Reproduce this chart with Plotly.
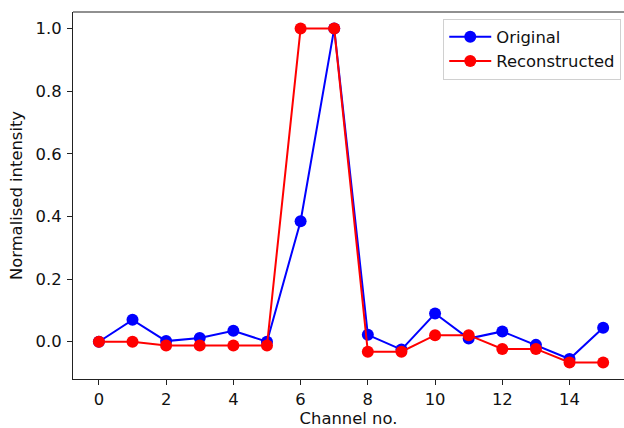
import plotly.graph_objects as go

channels = list(range(16))
original = [0.0, 0.07, 0.002, 0.012, 0.035, 0.0, 0.385, 1.0,
            0.022, -0.025, 0.09, 0.01, 0.033, -0.01, -0.055, 0.045]
reconstructed = [0.0, 0.0, -0.012, -0.012, -0.012, -0.012, 1.0, 1.0,
                 -0.032, -0.032, 0.021, 0.021, -0.023, -0.023, -0.066, -0.066]
x_ticks = [0, 2, 4, 6, 8, 10, 12, 14]
y_ticks = [0.0, 0.2, 0.4, 0.6, 0.8, 1.0]

FS = 16.4
font = dict(family="DejaVu Sans", size=FS, color="#111")

fig = go.Figure()
fig.add_trace(go.Scatter(x=channels, y=original, mode="lines+markers", name="Original",
                         legendgroup="a",
                         line=dict(color="#0000ff", width=2),
                         marker=dict(color="#0000ff", size=12, line=dict(width=0))))
fig.add_trace(go.Scatter(x=channels, y=reconstructed, mode="lines+markers", name="Reconstructed",
                         legendgroup="b",
                         line=dict(color="#ff0000", width=2),
                         marker=dict(color="#ff0000", size=12, line=dict(width=0))))

fig.update_layout(
    width=624, height=428,
    margin=dict(l=73, r=0, t=12, b=49),
    paper_bgcolor="white", plot_bgcolor="white",
    font=font,
    showlegend=True,
    legend=dict(x=0.995, y=0.982, xanchor="right", yanchor="top",
                bgcolor="rgba(255,255,255,0.8)", bordercolor="#d0d0d0", borderwidth=1,
                font=dict(family="DejaVu Sans", size=FS, color="#111"),
                tracegroupgap=0, itemwidth=42),
    xaxis=dict(range=[-0.77, 15.62], tickmode="array", tickvals=x_ticks,
               ticktext=[str(v) for v in x_ticks],
               showgrid=False, zeroline=False, showline=True, linecolor="#222",
               linewidth=1.2, mirror=False, ticks="outside", ticklen=5, tickcolor="#222",
               title=dict(text="Channel no.", standoff=6, font=font)),
    yaxis=dict(range=[-0.119, 1.053], tickmode="array", tickvals=y_ticks,
               ticktext=[f"{v:.1f}" for v in y_ticks],
               showgrid=False, zeroline=False, showline=True, linecolor="#222",
               linewidth=1.2, mirror=False, ticks="outside", ticklen=5, tickcolor="#222",
               ticklabelstandoff=2,
               title=dict(text="Normalised intensity", standoff=8, font=font)),
    shapes=[dict(type="line", xref="paper", yref="paper", x0=0, x1=1, y0=1, y1=1,
                 line=dict(color="#222", width=1.2))],
)

fig.write_html("out.html")
